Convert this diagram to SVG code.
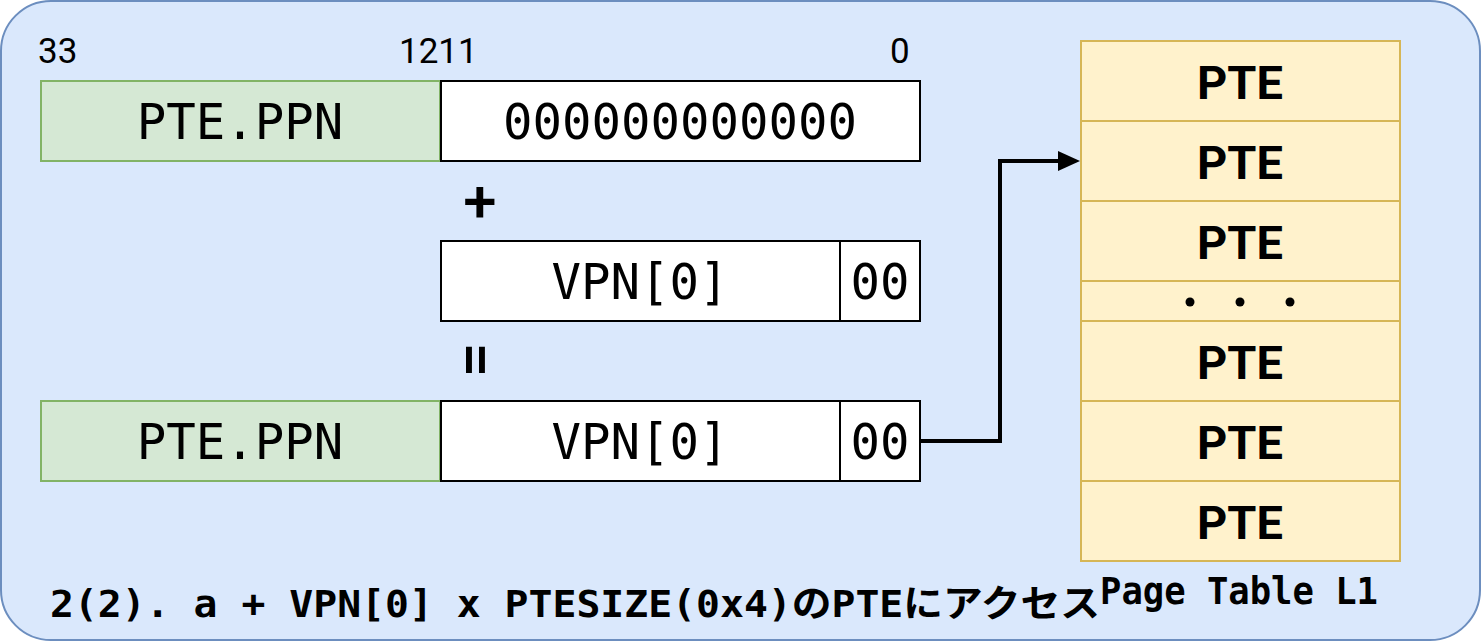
<svg xmlns="http://www.w3.org/2000/svg" width="1482" height="642" viewBox="0 0 1482 642">
<defs>
<style>
.mono{font-family:"DejaVu Sans Mono","Liberation Mono",monospace;font-size:49px;fill:#000;text-anchor:middle}
.lbl{font-family:Roboto,"Liberation Sans",sans-serif;font-size:35px;fill:#000}
.pte{font-family:Roboto,"Liberation Sans",sans-serif;font-weight:bold;font-size:47px;fill:#000;text-anchor:middle}
.green{fill:#d5e8d4;stroke:#82b366;stroke-width:2}
.white{fill:#fff;stroke:#000;stroke-width:2}
.yel{fill:#fff2cc;stroke:#d6b656;stroke-width:2}
.bold{font-family:"DejaVu Sans Mono","Noto Sans CJK JP",monospace;font-weight:bold;font-size:37px;fill:#000}
</style>
</defs>
<g id="background">
<rect x="1" y="1" width="1479" height="639" rx="50" ry="50" fill="#dae8fc" stroke="#6c8ebf" stroke-width="2"/>
</g>
<g id="bit-labels">
<text class="lbl" x="38" y="63">33</text>
<text class="lbl" x="399" y="63">1211</text>
<text class="lbl" x="890" y="63">0</text>
</g>
<g id="row1">
<rect class="green" x="41" y="81" width="399" height="80"/>
<text class="mono" x="240" y="139">PTE.PPN</text>
<rect class="white" x="441" y="81" width="479" height="80"/>
<text class="mono" x="680" y="139">000000000000</text>
</g>
<g id="plus">
<text x="480" y="222" font-family="Roboto,'Liberation Sans',sans-serif" font-weight="500" font-size="60" text-anchor="middle">+</text>
</g>
<g id="row2">
<rect class="white" x="441" y="241" width="399" height="80"/>
<text class="mono" x="640" y="299">VPN[0]</text>
<rect class="white" x="840" y="241" width="80" height="80"/>
<text class="mono" x="880" y="299">00</text>
</g>
<g id="equals">
<text x="0" y="0" transform="translate(476,360) rotate(90)" font-family="Roboto,'Liberation Sans',sans-serif" font-weight="500" font-size="62" text-anchor="middle" dominant-baseline="central">=</text>
</g>
<g id="row3">
<rect class="green" x="41" y="401" width="399" height="80"/>
<text class="mono" x="240" y="459">PTE.PPN</text>
<rect class="white" x="441" y="401" width="399" height="80"/>
<text class="mono" x="640" y="459">VPN[0]</text>
<rect class="white" x="840" y="401" width="80" height="80"/>
<text class="mono" x="880" y="459">00</text>
</g>
<g id="connectors">
<path d="M920,441 H1000 V161 H1062" fill="none" stroke="#000" stroke-width="4"/>
<path d="M1080,161 L1058,151 L1058,171 z" fill="#000"/>
</g>
<g id="page-table">
<rect class="yel" x="1081" y="41" width="319" height="80"/>
<text class="pte" x="1240" y="99">PTE</text>
<rect class="yel" x="1081" y="121" width="319" height="80"/>
<text class="pte" x="1240" y="179">PTE</text>
<rect class="yel" x="1081" y="201" width="319" height="80"/>
<text class="pte" x="1240" y="259">PTE</text>
<rect class="yel" x="1081" y="281" width="319" height="40"/>
<circle cx="1190" cy="302" r="4.5" fill="#000"/>
<circle cx="1240" cy="302" r="4.5" fill="#000"/>
<circle cx="1290" cy="302" r="4.5" fill="#000"/>
<rect class="yel" x="1081" y="321" width="319" height="80"/>
<text class="pte" x="1240" y="379">PTE</text>
<rect class="yel" x="1081" y="401" width="319" height="80"/>
<text class="pte" x="1240" y="459">PTE</text>
<rect class="yel" x="1081" y="481" width="319" height="80"/>
<text class="pte" x="1240" y="539">PTE</text>
<text class="bold" x="1100" y="604" textLength="278" lengthAdjust="spacingAndGlyphs">Page Table L1</text>
</g>
<g id="caption">
<text class="bold" x="50" y="617" textLength="1050" lengthAdjust="spacingAndGlyphs">2(2). a + VPN[0] x PTESIZE(0x4)のPTEにアクセス</text>
</g>
</svg>
